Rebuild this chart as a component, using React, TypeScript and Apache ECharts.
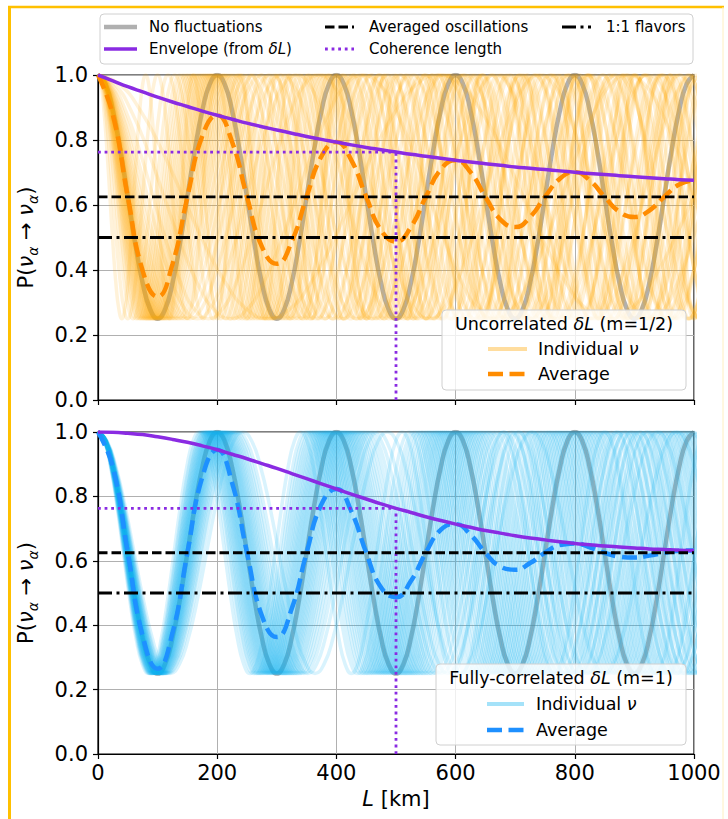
import React, { useEffect, useRef } from "react";
import * as echarts from "echarts";

// ---------- data ----------
const L_MAX = 1000;
const X_TICKS = [0, 200, 400, 600, 800, 1000];
const Y_TICKS = ["0.0", "0.2", "0.4", "0.6", "0.8", "1.0"];

// no-fluctuation survival probability, L = 0..1000 km every 12.5 km
const NO_FLUCT_P = [
  1, 0.972, 0.89, 0.769, 0.625, 0.481, 0.36, 0.279, 0.25, 0.279, 0.36, 0.481, 0.625, 0.769, 0.89, 0.972,
  1, 0.972, 0.89, 0.769, 0.625, 0.481, 0.36, 0.279, 0.25, 0.279, 0.36, 0.481, 0.625, 0.769, 0.89, 0.972,
  1, 0.972, 0.89, 0.769, 0.625, 0.481, 0.36, 0.279, 0.25, 0.279, 0.36, 0.481, 0.625, 0.769, 0.89, 0.972,
  1, 0.972, 0.89, 0.769, 0.625, 0.481, 0.36, 0.279, 0.25, 0.279, 0.36, 0.481, 0.625, 0.769, 0.89, 0.972,
  1, 0.972, 0.89, 0.769, 0.625, 0.481, 0.36, 0.279, 0.25, 0.279, 0.36, 0.481, 0.625, 0.769, 0.89, 0.972,
  1,
];
const FINE_STEP_KM = 12.5;

// averaged curves and envelopes, L = 0..1000 km every 25 km
const COARSE_STEP_KM = 25;
const UNCORR_ENVELOPE = [
  1.0, 0.982, 0.964, 0.948, 0.932, 0.917, 0.903, 0.889, 0.876, 0.864, 0.852, 0.841, 0.831, 0.821,
  0.811, 0.802, 0.794, 0.785, 0.777, 0.77, 0.763, 0.756, 0.75, 0.744, 0.738, 0.732, 0.727, 0.722,
  0.717, 0.713, 0.709, 0.705, 0.701, 0.697, 0.694, 0.69, 0.687, 0.684, 0.681, 0.678, 0.676,
];
const UNCORR_AVERAGE = [
  1.0, 0.877, 0.625, 0.397, 0.318, 0.418, 0.625, 0.812, 0.876, 0.794, 0.625, 0.472, 0.419, 0.487,
  0.625, 0.75, 0.794, 0.738, 0.625, 0.522, 0.487, 0.532, 0.625, 0.709, 0.738, 0.701, 0.625, 0.556,
  0.532, 0.563, 0.625, 0.681, 0.701, 0.676, 0.625, 0.579, 0.563, 0.583, 0.625, 0.663, 0.676,
];
const CORR_ENVELOPE = [
  1.0, 0.999, 0.996, 0.992, 0.985, 0.977, 0.968, 0.957, 0.945, 0.931, 0.917, 0.902, 0.887, 0.871,
  0.855, 0.839, 0.823, 0.807, 0.792, 0.777, 0.763, 0.75, 0.737, 0.725, 0.714, 0.704, 0.694, 0.686,
  0.678, 0.671, 0.665, 0.659, 0.654, 0.65, 0.646, 0.643, 0.64, 0.637, 0.635, 0.633, 0.632,
];
const CORR_AVERAGE = [
  1.0, 0.89, 0.625, 0.366, 0.265, 0.376, 0.625, 0.86, 0.945, 0.842, 0.625, 0.429, 0.363, 0.451,
  0.625, 0.776, 0.823, 0.754, 0.625, 0.517, 0.487, 0.537, 0.625, 0.696, 0.714, 0.681, 0.625, 0.582,
  0.572, 0.593, 0.625, 0.649, 0.654, 0.642, 0.625, 0.613, 0.61, 0.616, 0.625, 0.631, 0.632,
];

// oscillation periods (km) of the individual neutrino curves
const UNCORR_PERIODS_KM = [
  198.0, 202.0, 195.1, 205.1, 192.3, 208.3, 189.6, 211.6, 186.9, 215.1, 183.5, 219.8, 180.2, 224.7,
  177.0, 229.9, 173.2, 236.7, 169.5, 243.9, 165.3, 253.2, 161.3, 263.2, 157.5, 274.0, 152.7, 289.9,
  148.1, 307.7, 142.9, 333.3, 137.0, 370.4, 129.0, 444.4, 117.6, 100.0, 80.0, 571.0,
];
const CORR_PERIODS_KM = [
  199.4, 200.6, 198.4, 201.6, 197.2, 202.8, 196.1, 204.1, 194.9, 205.3, 193.8, 206.6, 192.7, 207.9,
  191.6, 209.2, 190.3, 210.7, 189.2, 212.1, 188.0, 213.7, 186.6, 215.5, 185.2, 217.4, 183.8, 219.3,
  182.1, 221.7, 180.5, 224.2, 178.7, 227.1, 176.7, 230.4, 174.2, 234.7, 170.1, 242.7,
];

const AVERAGED_P = 0.625;
const FLAVOR_P = 0.5;
const COHERENCE_L = 500;
const COHERENCE_P = 0.763;

// ---------- helpers ----------
const FONT = "DejaVu Sans";
const ONE_CYCLE_P = NO_FLUCT_P.slice(0, 17);
const DOT = [2.8, 3.8];

function tiledCurve(periodKm: number): number[][] {
  const steps = ONE_CYCLE_P.length - 1;
  const cycles = Math.ceil(L_MAX / periodKm);
  const pts: number[][] = [];
  for (let c = 0; c < cycles; c++) {
    for (let j = 0; j < steps; j++) pts.push([(c + j / steps) * periodKm, ONE_CYCLE_P[j]]);
  }
  pts.push([cycles * periodKm, ONE_CYCLE_P[steps]]);
  return pts;
}
const pairs = (arr: number[], step: number) => arr.map((v, i) => [i * step, v]);

function panelSeries(idx: number, periods: number[], indColor: string, indOpacity: number,
  avg: number[], env: number[], avgColor: string) {
  const base = { type: "line", xAxisIndex: idx, yAxisIndex: idx, showSymbol: false, silent: true, animation: false };
  const s: any[] = [];
  s.push({ ...base, name: "No fluctuations", data: pairs(NO_FLUCT_P, FINE_STEP_KM), smooth: true, z: 1,
    lineStyle: { color: "#707070", width: 4.5, opacity: 0.55 } });
  periods.forEach((T) => {
    s.push({ ...base, data: tiledCurve(T), smooth: true, z: 2,
      lineStyle: { color: indColor, width: 3.5, opacity: indOpacity } });
  });
  s.push({ ...base, name: "Average", data: pairs(avg, COARSE_STEP_KM), smooth: true, z: 3,
    lineStyle: { color: avgColor, width: 4.5, type: [15, 6.5], cap: "butt" } });
  s.push({ ...base, name: "Envelope", data: pairs(env, COARSE_STEP_KM), smooth: true, z: 4,
    lineStyle: { color: "#8a2be2", width: 3.5 } });
  s.push({ ...base, data: [[0, COHERENCE_P], [COHERENCE_L, COHERENCE_P]], z: 5,
    lineStyle: { color: "#8a2be2", width: 2.8, type: DOT, cap: "butt" } });
  s.push({ ...base, data: [[COHERENCE_L, 0], [COHERENCE_L, COHERENCE_P]], z: 5,
    lineStyle: { color: "#8a2be2", width: 2.8, type: DOT, cap: "butt" } });
  s.push({ ...base, data: [[0, AVERAGED_P], [L_MAX, AVERAGED_P]], z: 6,
    lineStyle: { color: "#000", width: 2.8, type: [9.5, 4], cap: "butt" } });
  s.push({ ...base, data: [[0, FLAVOR_P], [L_MAX, FLAVOR_P]], z: 6,
    lineStyle: { color: "#000", width: 2.8, type: [14, 4.5, 3, 4.5], cap: "butt" } });
  return s;
}

function xAxis(idx: number, labels: boolean) {
  return {
    type: "value", gridIndex: idx, min: 0, max: L_MAX, interval: 200,
    axisLine: { show: true, onZero: false, lineStyle: { color: "#000", width: 1.2 } },
    axisTick: { show: true, inside: false, length: 5, lineStyle: { color: "#000", width: 1.2 } },
    splitLine: { show: true, lineStyle: { color: "#b0b0b0", width: 1 } },
    axisLabel: {
      show: labels, fontSize: 21, fontFamily: FONT, color: "#000", margin: 8,
      formatter: (v: number) => String(X_TICKS[X_TICKS.indexOf(v)]),
    },
    name: labels ? "{i|L} [km]" : "",
    nameLocation: "middle", nameGap: 34,
    nameTextStyle: { fontSize: 21, fontFamily: FONT, color: "#000",
      rich: { i: { fontSize: 21, fontFamily: FONT, fontStyle: "italic", color: "#000" } } },
  };
}
function yAxis(idx: number) {
  return {
    type: "value", gridIndex: idx, min: 0, max: 1, interval: 0.2,
    axisLine: { show: true, lineStyle: { color: "#000", width: 1.2 } },
    axisTick: { show: true, inside: false, length: 5, lineStyle: { color: "#000", width: 1.2 } },
    splitLine: { show: true, lineStyle: { color: "#b0b0b0", width: 1 } },
    axisLabel: { fontSize: 21, fontFamily: FONT, color: "#000", margin: 10,
      formatter: (v: number) => Y_TICKS[Math.round(v * 5)] },
    name: "P({n|ν}{s|α} → {n|ν}{s|α})",
    nameLocation: "middle", nameGap: 58, nameRotate: 90,
    nameTextStyle: { fontSize: 21, fontFamily: FONT, color: "#000", lineHeight: 28,
      rich: {
        n: { fontSize: 21, fontFamily: FONT, fontStyle: "italic", color: "#000", lineHeight: 28 },
        s: { fontSize: 14, fontFamily: FONT, fontStyle: "italic", color: "#000", verticalAlign: "bottom", lineHeight: 28 },
      } },
  };
}

function legendLine(x1: number, x2: number, y: number, style: any) {
  return { type: "line", z: 101, shape: { x1, y1: y, x2, y2: y }, style };
}
function legendText(x: number, y: number, text: string, size: number, align = "left") {
  return {
    type: "text", z: 101, x, y,
    style: { text, fontSize: size, fontFamily: FONT, fill: "#000", align, verticalAlign: "middle",
      rich: { i: { fontSize: size, fontFamily: FONT, fontStyle: "italic", fill: "#000" } } },
  };
}

export default function App() {
  const ref = useRef<HTMLDivElement>(null);
  useEffect(() => {
    if (!ref.current) return;
    const chart = echarts.init(ref.current, null, { renderer: "svg" });
    const gridBase = { show: true, borderColor: "#000", borderWidth: 1.2, left: 98, width: 596 };
    const option: any = {
      animation: false,
      backgroundColor: "#ffffff",
      grid: [
        { ...gridBase, top: 75, height: 325 },
        { ...gridBase, top: 432, height: 322 },
      ],
      xAxis: [xAxis(0, false), xAxis(1, true)],
      yAxis: [yAxis(0), yAxis(1)],
      series: [
        ...panelSeries(0, UNCORR_PERIODS_KM, "#ffa500", 0.15, UNCORR_AVERAGE, UNCORR_ENVELOPE, "#ff8c00"),
        ...panelSeries(1, CORR_PERIODS_KM, "#10b4f0", 0.16, CORR_AVERAGE, CORR_ENVELOPE, "#1e90ff"),
      ],
      graphic: [
        // figure frame
        { type: "line", z: 110, shape: { x1: 9.5, y1: 6, x2: 9.5, y2: 819 }, style: { stroke: "#ffc000", lineWidth: 3 } },
        { type: "line", z: 110, shape: { x1: 8, y1: 7, x2: 724, y2: 7 }, style: { stroke: "#ffc000", lineWidth: 2.5 } },
        { type: "line", z: 110, shape: { x1: 723, y1: 7, x2: 723, y2: 819 }, style: { stroke: "#fff0c0", lineWidth: 1 } },
        // main legend
        { type: "rect", z: 100, shape: { x: 100, y: 14, width: 593, height: 50, r: 4 },
          style: { fill: "rgba(255,255,255,0.85)", stroke: "#d0d0d0", lineWidth: 1 } },
        legendLine(104, 137, 27, { stroke: "#707070", opacity: 0.55, lineWidth: 4.5 }),
        legendText(149, 27, "No fluctuations", 15),
        legendLine(104, 137, 49, { stroke: "#8a2be2", lineWidth: 3.5 }),
        legendText(149, 49, "Envelope (from {i|δL})", 15),
        legendLine(325, 354, 27, { stroke: "#000", lineWidth: 2.8, lineDash: [9.5, 4] }),
        legendText(369, 27, "Averaged oscillations", 15),
        legendLine(325, 354, 49, { stroke: "#8a2be2", lineWidth: 2.8, lineDash: DOT }),
        legendText(369, 49, "Coherence length", 15),
        legendLine(562, 591, 27, { stroke: "#000", lineWidth: 2.8, lineDash: [14, 4.5, 3, 4.5] }),
        legendText(606, 27, "1:1 flavors", 15),
        // top panel legend
        { type: "rect", z: 100, shape: { x: 442, y: 310, width: 244, height: 80, r: 4 },
          style: { fill: "rgba(255,255,255,0.8)", stroke: "#d0d0d0", lineWidth: 1 } },
        legendText(564, 324, "Uncorrelated {i|δL} (m=1/2)", 17.5, "center"),
        legendLine(488, 527, 349, { stroke: "#ffa500", opacity: 0.38, lineWidth: 4 }),
        legendText(538, 349, "Individual {i|ν}", 17.5),
        legendLine(488, 527, 374, { stroke: "#ff8c00", lineWidth: 4.5, lineDash: [15, 6.5] }),
        legendText(538, 374, "Average", 17.5),
        // bottom panel legend
        { type: "rect", z: 100, shape: { x: 436, y: 664, width: 250, height: 81, r: 4 },
          style: { fill: "rgba(255,255,255,0.8)", stroke: "#d0d0d0", lineWidth: 1 } },
        legendText(561, 678, "Fully-correlated {i|δL} (m=1)", 17.5, "center"),
        legendLine(487, 524, 704, { stroke: "#10b4f0", opacity: 0.38, lineWidth: 4 }),
        legendText(536, 704, "Individual {i|ν}", 17.5),
        legendLine(487, 524, 730, { stroke: "#1e90ff", lineWidth: 4.5, lineDash: [15, 6.5] }),
        legendText(536, 730, "Average", 17.5),
      ],
    };
    chart.setOption(option);
    return () => chart.dispose();
  }, []);
  return <div ref={ref} style={{ position: "absolute", left: 0, top: 0, width: 728, height: 819 }} />;
}
